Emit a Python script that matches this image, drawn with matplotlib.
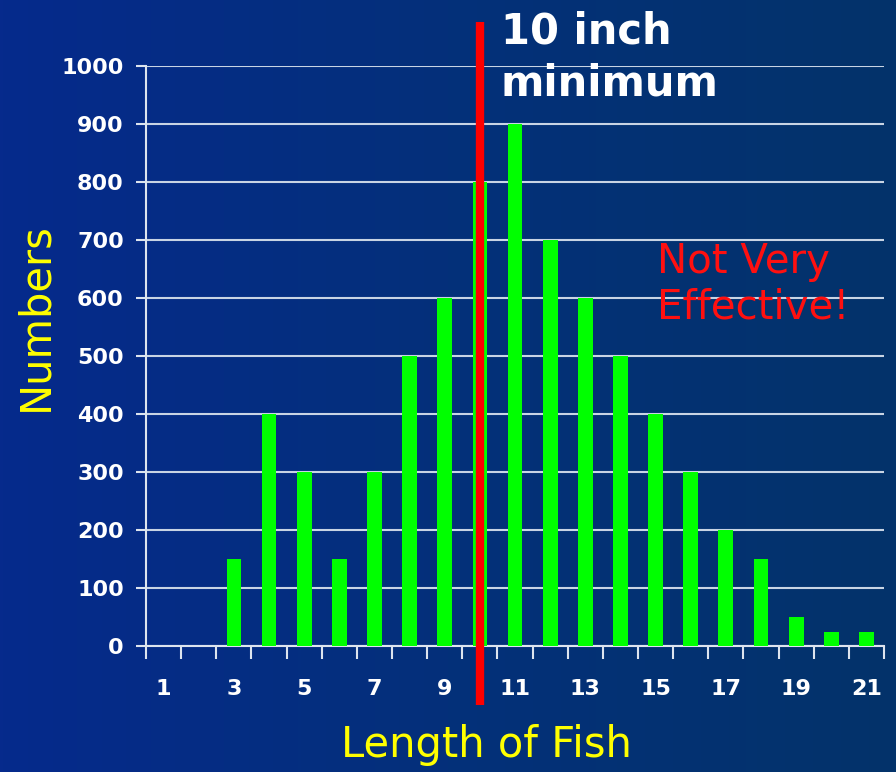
import numpy as np
import matplotlib
matplotlib.use("Agg")
from matplotlib import pyplot as plt
from matplotlib.colors import LinearSegmentedColormap

# data
lengths = list(range(1, 22))
counts = [0, 0, 150, 400, 300, 150, 300, 500, 600, 800, 900,
          700, 600, 500, 400, 300, 200, 150, 50, 25, 25]
min_length = 10
y_ticks = list(range(0, 1001, 100))
x_labels = [1, 3, 5, 7, 9, 11, 13, 15, 17, 19, 21]

fig = plt.figure(figsize=(8.96, 7.72), dpi=100)

# gradient background
bg = fig.add_axes([0, 0, 1, 1])
cmap = LinearSegmentedColormap.from_list("bg", ["#062a8c", "#04307a", "#03336a"])
grad = np.linspace(0, 1, 256).reshape(1, -1)
bg.imshow(grad, aspect="auto", cmap=cmap, extent=[0, 1, 0, 1])
bg.axis("off")

ax = fig.add_axes([0.163, 0.1632, 0.8236, 0.7513])
ax.set_facecolor("none")
ax.bar(lengths, counts, width=0.42, color="#00ff00", zorder=3)

ax.set_xlim(0.5, 21.5)
ax.set_ylim(0, 1000)
ax.set_yticks(y_ticks)
ax.grid(axis="y", color="#c8d4e4", lw=1.5, zorder=1)

for s in ["top", "right"]:
    ax.spines[s].set_visible(False)
for s in ["left", "bottom"]:
    ax.spines[s].set_color("#dde4ee")
    ax.spines[s].set_linewidth(1.5)

ax.tick_params(axis="y", colors="#dde4ee", length=7, width=1.5, pad=9,
               labelcolor="white", labelsize=16)
for t in ax.get_yticklabels():
    t.set_fontweight("bold")

# boundary ticks without labels, labels on odd centers
ax.set_xticks(np.arange(0.5, 22, 1))
ax.set_xticklabels([])
ax.tick_params(axis="x", which="major", colors="#dde4ee", length=9, width=1.5)
ax.set_xticks(x_labels, minor=True)
ax.set_xticklabels([str(v) for v in x_labels], minor=True)
ax.tick_params(axis="x", which="minor", length=0, pad=24,
               labelcolor="white", labelsize=16)
for t in ax.get_xticklabels(minor=True):
    t.set_fontweight("bold")

# minimum size line
ax.vlines(min_length, -102, 1076, color="#ff0000", lw=6, zorder=5, clip_on=False)

ax.text(10.6, 1095, "10 inch\nminimum", color="white", fontsize=30,
        fontweight="bold", va="top", ha="left", linespacing=1.3)
ax.text(15.05, 697, "Not Very\nEffective!", color="#ff1010", fontsize=29,
        va="top", ha="left", linespacing=1.2)

fig.text(0.039, 0.59, "Numbers", color="#ffff00", fontsize=30,
         rotation=90, ha="center", va="center")
fig.text(0.543, 0.035, "Length of Fish", color="#ffff00", fontsize=30,
         ha="center", va="center")

fig.savefig("out.png", dpi=100)
